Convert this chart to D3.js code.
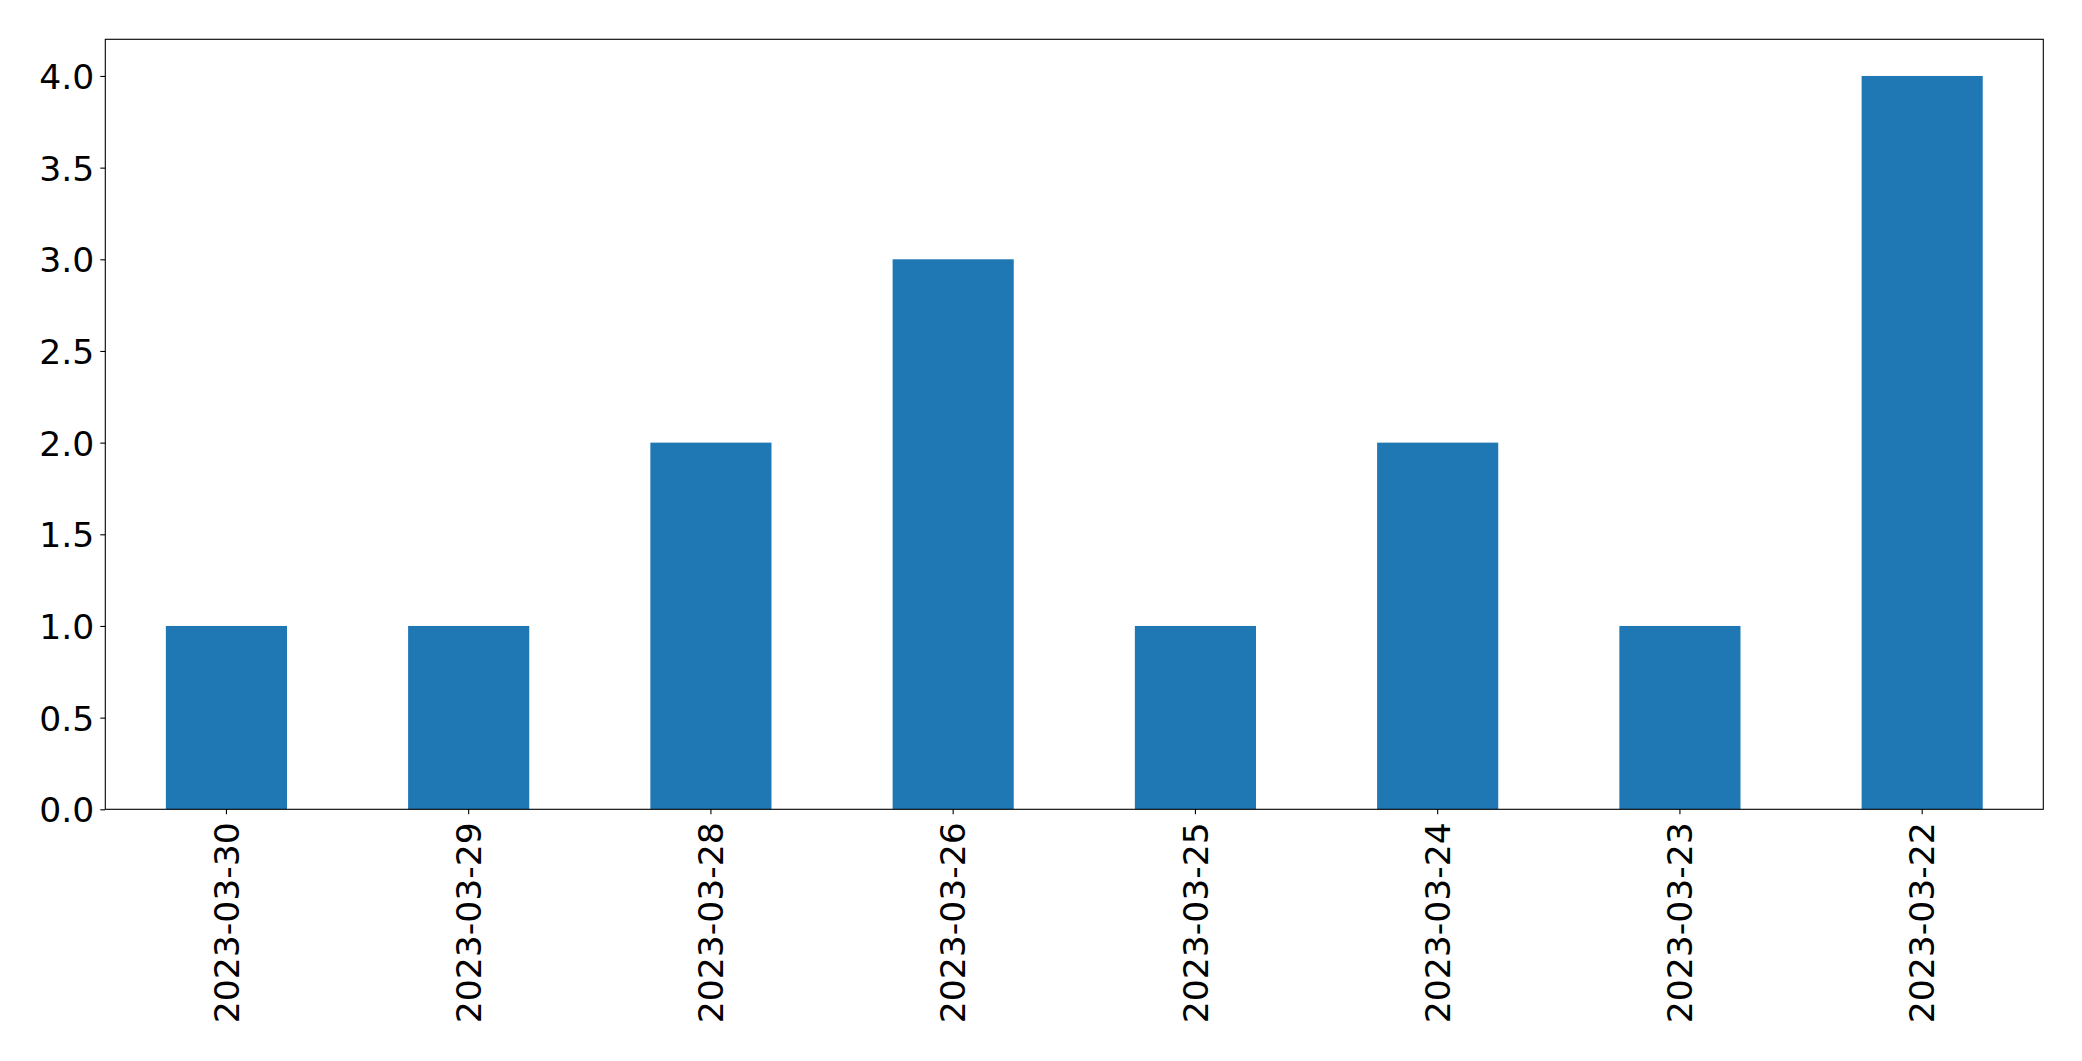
<!DOCTYPE html>
<html>
<head>
<meta charset="utf-8">
<script src="https://cdn.jsdelivr.net/npm/d3@7"></script>
<style>
  html, body { margin: 0; padding: 0; background: #fff; }
  svg { display: block; }
  text { font-family: "DejaVu Sans", sans-serif; fill: #000; }
</style>
</head>
<body>
<script>
const categories = ["2023-03-30", "2023-03-29", "2023-03-28", "2023-03-26", "2023-03-25", "2023-03-24", "2023-03-23", "2023-03-22"];
const values = [1, 1, 2, 3, 1, 2, 1, 4];
const yTicks = [0, 0.5, 1, 1.5, 2, 2.5, 3, 3.5, 4];

const W = 2082, H = 1061;
const margin = { left: 105.3, right: W - 2043.3, top: 39.3, bottom: H - 809.3 };
const iw = W - margin.left - margin.right;
const ih = H - margin.top - margin.bottom;

const svg = d3.select("body").append("svg").attr("width", W).attr("height", H);
const g = svg.append("g").attr("transform", `translate(${margin.left},${margin.top})`);

const x = d3.scaleBand().domain(categories).range([0, iw]).paddingInner(0.5).paddingOuter(0.25);
const y = d3.scaleLinear().domain([0, 4.2]).range([ih, 0]);

g.selectAll("rect.bar").data(values).join("rect")
  .attr("class", "bar")
  .attr("x", (d, i) => x(categories[i]))
  .attr("width", x.bandwidth())
  .attr("y", d => y(d))
  .attr("height", d => y(0) - y(d))
  .attr("fill", "#1f77b4");

const fontSize = 34.6;
const yAxis = d3.axisLeft(y).tickValues(yTicks).tickFormat(d3.format(".1f")).tickSize(5).tickPadding(6);
const ya = g.append("g").call(yAxis);
ya.select(".domain").remove();
ya.selectAll("text").style("font-size", fontSize + "px").attr("dy", "0.36em").attr("fill", "#000");
ya.selectAll("line").attr("stroke", "#000").attr("stroke-width", 1.1);

const xAxis = d3.axisBottom(x).tickSize(5).tickPadding(0);
const xa = g.append("g").attr("transform", `translate(0,${ih})`).call(xAxis);
xa.select(".domain").remove();
xa.selectAll("line").attr("stroke", "#000").attr("stroke-width", 1.1);
xa.selectAll("text")
  .style("font-size", fontSize + "px")
  .attr("fill", "#000")
  .attr("transform", "rotate(-90)")
  .attr("text-anchor", "end")
  .attr("x", -13)
  .attr("y", 0)
  .attr("dy", "0.35em");

g.append("rect").attr("x", 0).attr("y", 0).attr("width", iw).attr("height", ih)
  .attr("fill", "none").attr("stroke", "#000").attr("stroke-width", 1.1);
</script>
</body>
</html>
